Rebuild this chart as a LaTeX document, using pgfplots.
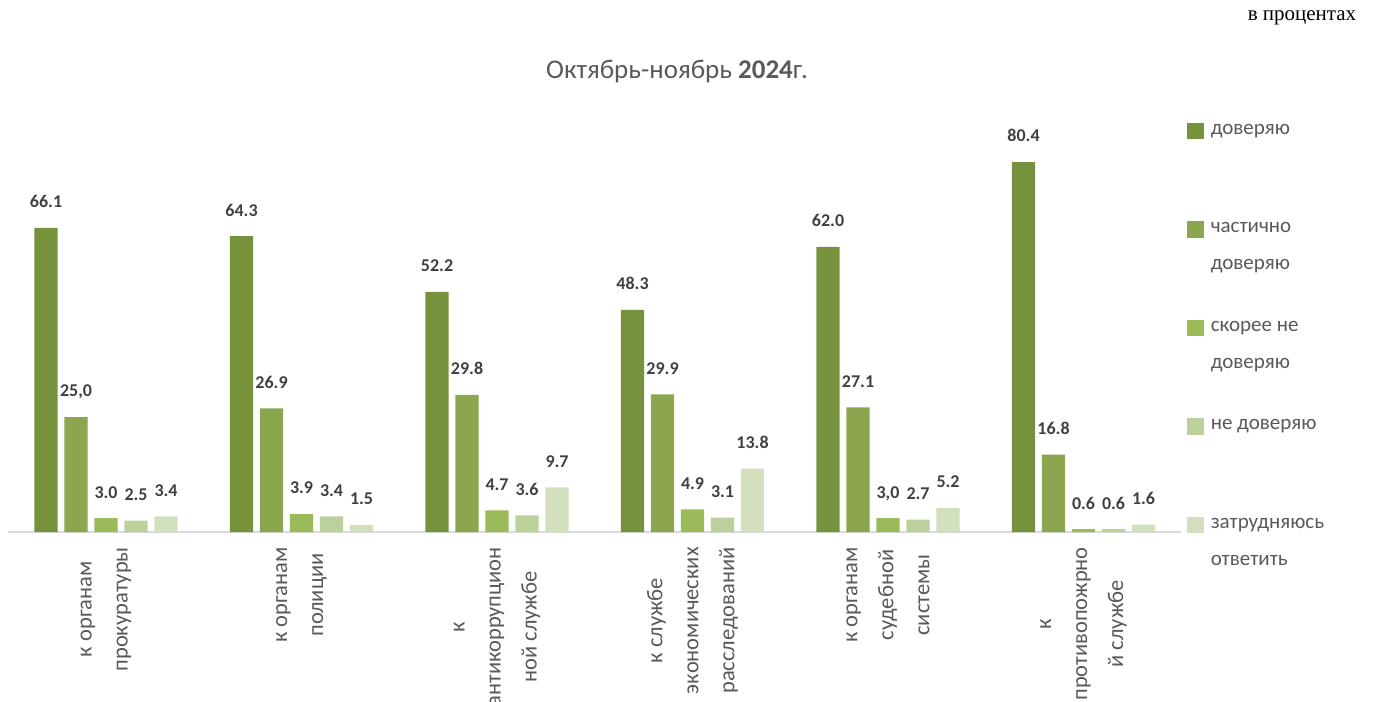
\documentclass[border=0pt]{standalone}
\usepackage{fontspec}
\setmainfont{Carlito}
\newfontfamily\seriffont{Liberation Serif}
\usepackage{pgfplots}
\pgfplotsset{compat=1.18}

\definecolor{cA}{HTML}{76923C}
\definecolor{cB}{HTML}{8BA64F}
\definecolor{cC}{HTML}{9BBB59}
\definecolor{cD}{HTML}{BBD09A}
\definecolor{cE}{HTML}{D2E0BD}
\definecolor{txt}{HTML}{595959}
\definecolor{lbl}{HTML}{404040}

\newcommand{\entry}[2]{\parbox[t]{160bp}{\rule{0pt}{14bp}#1\\#2\rule[-5bp]{0pt}{5bp}}}

\begin{document}
\begin{tikzpicture}
\useasboundingbox (0,0) rectangle (1374bp,702bp);
\begin{axis}[
  at={(8.3bp,170bp)},
  scale only axis,
  width=1173bp, height=414bp,
  clip=false,
  ybar=6.7bp,
  bar width=23.3bp,
  ymin=0, ymax=90,
  xmin=-0.5, xmax=5.5,
  axis y line=none,
  axis x line*=bottom,
  x axis line style={draw=black!15, line width=1.5bp},
  ytick=\empty,
  xtick={0,1,2,3,4,5},
  major tick length=0pt,
  xticklabels={
    к органам\\прокуратуры,
    к органам\\полиции,
    к\\антикоррупцион\\ной службе,
    к службе\\экономических\\расследований,
    к органам\\судебной\\системы,
    к\\противопожрно\\й службе},
  xticklabel style={rotate=90, anchor=east, align=center, inner sep=0pt,
    font=\fontsize{22.5bp}{36bp}\selectfont, text=txt},
  xticklabel shift=15bp,
  point meta=explicit symbolic,
  nodes near coords,
  every node near coord/.append style={font=\fontsize{18bp}{20bp}\selectfont\bfseries,
    text=lbl, anchor=south, inner sep=0pt, yshift=20bp, text depth=0pt},
  legend image code/.code={\fill[#1] (0bp,-5bp) rectangle (17bp,11.6bp);},
  legend style={draw=none, fill=none, at={(1,1)}, anchor=north west,
    xshift=5.5bp, yshift=-2.3bp, inner sep=0pt, outer sep=0pt,
    column sep=7bp, row sep=42.5bp,
    cells={anchor=base west},
    nodes={inner sep=0pt, text depth=, text height=},
    font=\fontsize{21bp}{37bp}\selectfont, text=txt},
]
% доверяю
\addplot[draw=none, fill=cA] coordinates {(0,66.1)[66.1] (1,64.3)[64.3] (2,52.2)[52.2] (3,48.3)[48.3] (4,62.0)[62.0] (5,80.4)[80.4]};
% частично доверяю
\addplot[draw=none, fill=cB] coordinates {(0,25.0)[25{,}0] (1,26.9)[26.9] (2,29.8)[29.8] (3,29.9)[29.9] (4,27.1)[27.1] (5,16.8)[16.8]};
% скорее не доверяю
\addplot[draw=none, fill=cC] coordinates {(0,3.0)[3.0] (1,3.9)[3.9] (2,4.7)[4.7] (3,4.9)[4.9] (4,3.0)[3{,}0] (5,0.6)[0.6]};
% не доверяю
\addplot[draw=none, fill=cD] coordinates {(0,2.5)[2.5] (1,3.4)[3.4] (2,3.6)[3.6] (3,3.1)[3.1] (4,2.7)[2.7] (5,0.6)[0.6]};
% затрудняюсь ответить
\addplot[draw=none, fill=cE] coordinates {(0,3.4)[3.4] (1,1.5)[1.5] (2,9.7)[9.7] (3,13.8)[13.8] (4,5.2)[5.2] (5,1.6)[1.6]};
\addlegendentry{\entry{доверяю}{\mbox{}}}
\addlegendentry{\entry{частично}{доверяю}}
\addlegendentry{\entry{скорее не}{доверяю}}
\addlegendentry{\entry{не доверяю}{\mbox{}}}
\addlegendentry{\entry{затрудняюсь}{ответить}}
\end{axis}
\node[font=\fontsize{27bp}{30bp}\selectfont, text=txt] at (677bp,631bp) {Октябрь-ноябрь \textbf{2024}г.};
\node[font=\seriffont\fontsize{21bp}{23bp}\selectfont, text=black] at (1302bp,684bp) {в процентах};
\end{tikzpicture}
\end{document}
